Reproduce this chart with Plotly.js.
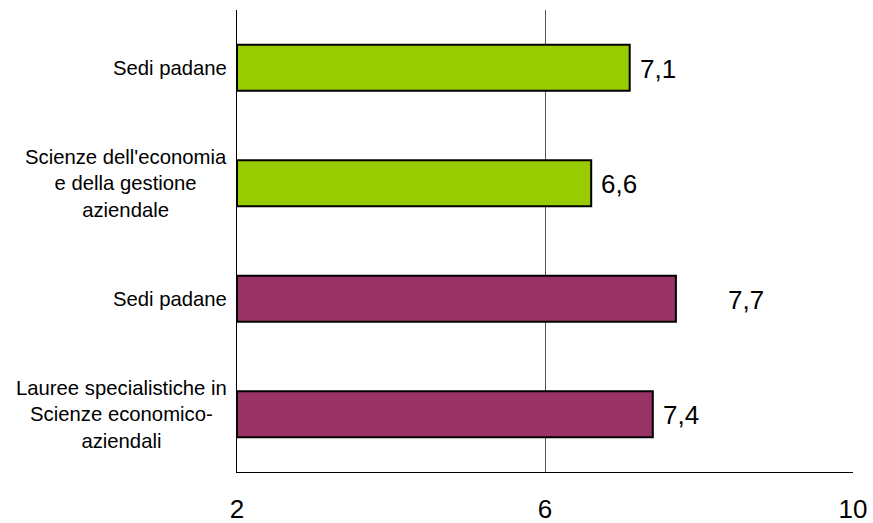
<!DOCTYPE html>
<html>
<head>
<meta charset="utf-8">
<script src="https://cdn.plot.ly/plotly-3.0.1.min.js"></script>
<style>html,body{margin:0;padding:0;background:#fff;}#chart{width:873px;height:523px;}</style>
</head>
<body>
<div id="chart"></div>
<script>
const categories = [
  "Sedi padane",
  "Scienze dell'economia<br>e della gestione<br>aziendale",
  "Sedi padane",
  "Lauree specialistiche in<br>Scienze economico-<br>aziendali"
];
const values = [7.1, 6.6, 7.7, 7.4];
const valueLabels = ["7,1", "6,6", "7,7", "7,4"];
const barColors = ["#99CC00", "#99CC00", "#993366", "#993366"];
const xTickVals = [2, 6, 10];
const xTickText = ["2", "6", "10"];

const labelShift = [8, 8, 50, 8];
const narrow = "'Liberation Sans Narrow', 'Arial Narrow', 'Liberation Sans', Arial, sans-serif";
const yIdx = categories.map((_, i) => i);

const trace = {
  type: 'bar',
  orientation: 'h',
  x: values.map(v => v - 2),
  y: yIdx,
  base: 2,
  width: 0.4,
  marker: {color: barColors, line: {color: '#000', width: 2}},
  hoverinfo: 'none'
};

const annotations = [];
categories.forEach((c, i) => {
  annotations.push({
    xref: 'paper', yref: 'y', x: 0, y: i, xanchor: 'right', yanchor: 'middle',
    xshift: -8, text: c, showarrow: false, align: 'center',
    font: {family: "'Liberation Sans', Arial, sans-serif", size: 20.3, color: '#000'}
  });
  annotations.push({
    xref: 'x', yref: 'y', x: values[i], y: i, xanchor: 'left', yanchor: 'middle',
    xshift: labelShift[i], yshift: -1, text: valueLabels[i], showarrow: false,
    font: {family: narrow, size: 26, color: '#000'}
  });
});

const layout = {
  width: 873, height: 523,
  margin: {l: 237, r: 20, t: 10, b: 51, pad: 0},
  paper_bgcolor: '#fff', plot_bgcolor: '#fff',
  showlegend: false,
  xaxis: {
    range: [2, 10], tickvals: xTickVals, ticktext: xTickText,
    showgrid: true, gridcolor: '#555', gridwidth: 1,
    zeroline: false, showline: true, linecolor: '#000', linewidth: 1,
    ticks: '', ticklabelstandoff: 14,
    tickfont: {family: narrow, size: 26, color: '#000'},
    fixedrange: true
  },
  yaxis: {
    range: [3.5, -0.5], tickvals: yIdx, showticklabels: false,
    showgrid: false, zeroline: false, showline: true, linecolor: '#000', linewidth: 1,
    ticks: '', fixedrange: true
  },
  annotations: annotations
};

Plotly.newPlot('chart', [trace], layout, {staticPlot: true, displayModeBar: false});
</script>
</body>
</html>
